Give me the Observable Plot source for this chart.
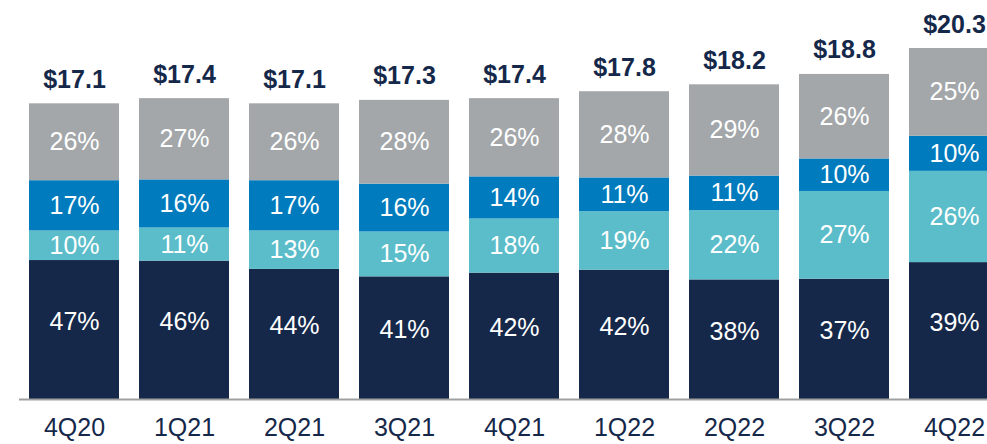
<!DOCTYPE html>
<html>
<head>
<meta charset="utf-8">
<script src="https://cdn.jsdelivr.net/npm/d3@7"></script>
<script src="https://cdn.jsdelivr.net/npm/@observablehq/plot@0.6"></script>
<style>
  html, body { margin: 0; padding: 0; background: #fff; overflow: hidden; }
  #chart svg { max-width: none !important; }
</style>
</head>
<body>
<div id="chart"></div>
<script>
const quarters = ["4Q20","1Q21","2Q21","3Q21","4Q21","1Q22","2Q22","3Q22","4Q22"];
const totals   = [17.1, 17.4, 17.1, 17.3, 17.4, 17.8, 18.2, 18.8, 20.3];
const totalLabels = ["$17.1","$17.4","$17.1","$17.3","$17.4","$17.8","$18.2","$18.8","$20.3"];
const segments = ["S1","S2","S3","S4"];
const pctS1 = [47, 46, 44, 41, 42, 42, 38, 37, 39];
const pctS2 = [10, 11, 13, 15, 18, 19, 22, 27, 26];
const pctS3 = [17, 16, 17, 16, 14, 11, 11, 10, 10];
const pctS4 = [26, 27, 26, 28, 26, 28, 29, 26, 25];
const colors = ["#15284a", "#5bbdc9", "#007bbd", "#a3a7aa"];

const pcts = [pctS1, pctS2, pctS3, pctS4];
const data = [];
quarters.forEach((q, i) => {
  segments.forEach((s, j) => {
    data.push({q, seg: s, pct: pcts[j][i], value: totals[i] * pcts[j][i] / 100});
  });
});
const bottomData = data.filter(d => d.seg === "S1");
const totalsData = quarters.map((q, i) => ({q, total: totals[i], label: totalLabels[i]}));

const font = "'Liberation Sans', Arial, sans-serif";
const chart = Plot.plot({
  width: 1009,
  height: 444,
  marginLeft: 19,
  marginRight: 0,
  marginTop: 0,
  marginBottom: 45,
  style: {fontFamily: font, background: "#fff"},
  x: {domain: quarters, paddingInner: 0.18, paddingOuter: 0.09, label: null, axis: null},
  y: {domain: [0, 20.3], range: [399, 48], axis: null},
  color: {domain: segments, range: colors},
  marks: [
    Plot.barY(data, {x: "q", y: "value", fill: "seg"}),
    Plot.text(data, Plot.stackY({x: "q", y: "value", z: "seg", text: d => d.seg === "S1" ? "" : d.pct + "%", fill: "white", fontSize: 25})),
    Plot.text(bottomData, Plot.stackY({x: "q", y: "value", text: d => d.pct + "%", fill: "white", fontSize: 25, dy: -8})),
    Plot.text(totalsData, {x: "q", y: "total", text: "label", lineAnchor: "bottom", dy: -16, fontSize: 25, fontWeight: "bold", fill: "#15284a"}),
    Plot.ruleY([0], {stroke: "#a0a0a0", strokeWidth: 2}),
    Plot.axisX({tickSize: 0, tickPadding: 19, fontSize: 25, fill: "#15284a", label: null})
  ]
});
document.getElementById("chart").append(chart);
</script>
</body>
</html>
